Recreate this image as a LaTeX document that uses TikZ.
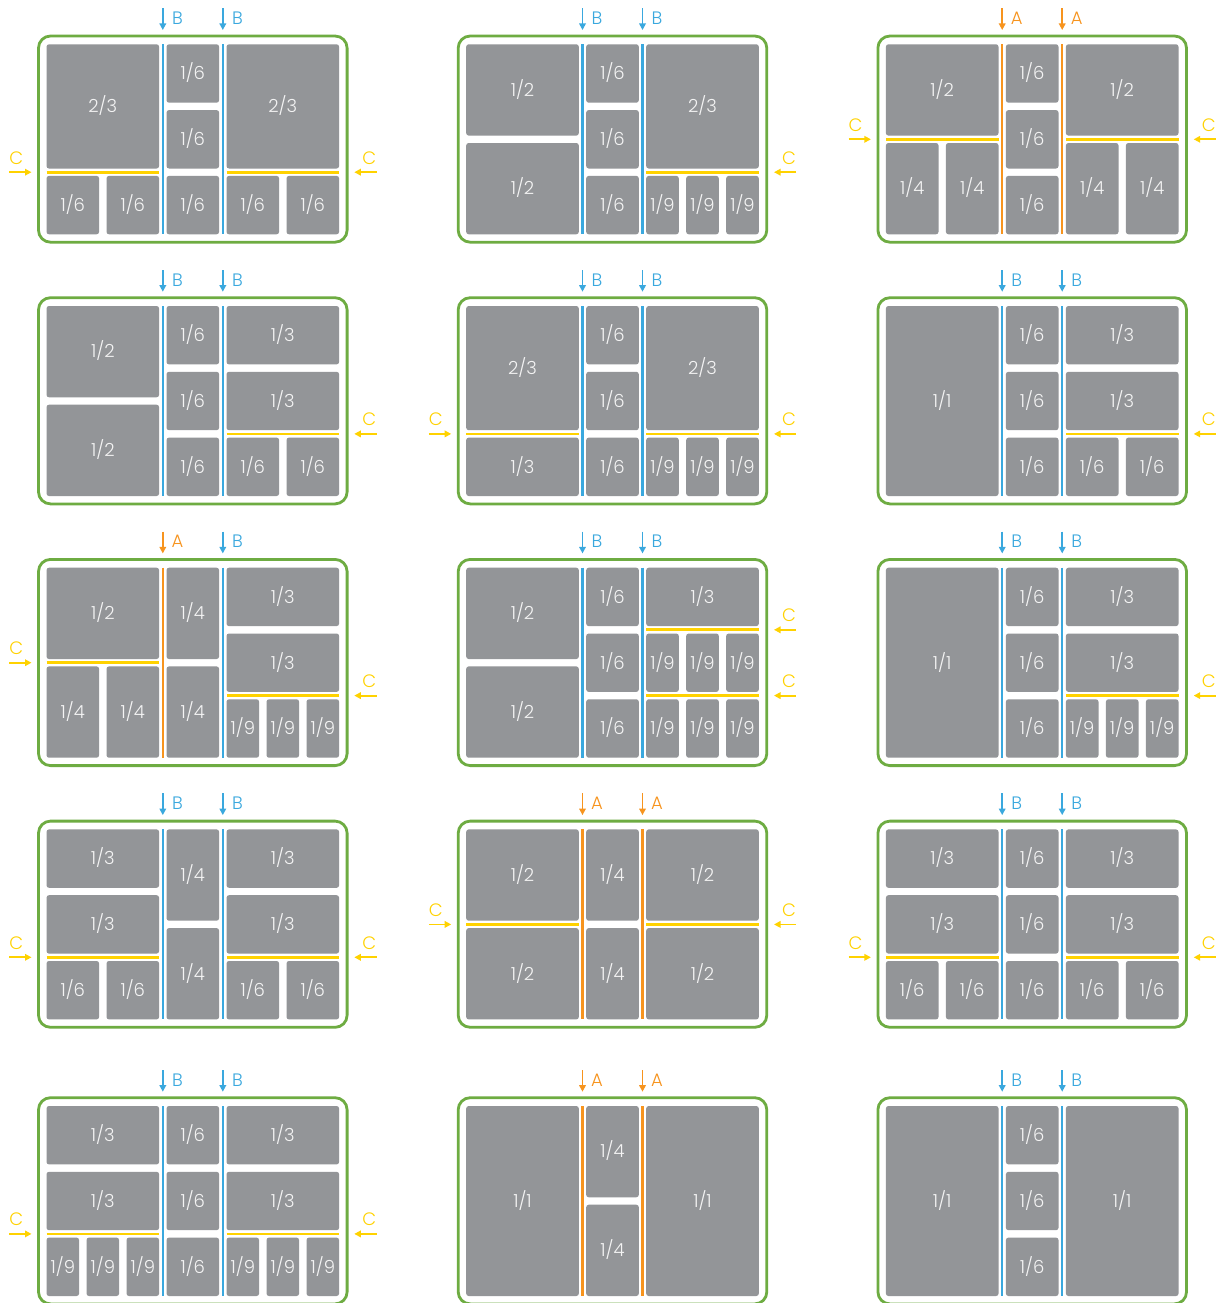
\documentclass[tikz,border=0pt]{standalone}
\usepackage{fontspec}
\IfFontExistsTF{Poppins Light}{\setmainfont{Poppins Light}}{\setmainfont{Poppins}}
\usetikzlibrary{arrows.meta}
\definecolor{cellgray}{RGB}{147,149,152}
\definecolor{lineblue}{RGB}{58,168,222}
\definecolor{lineorange}{RGB}{247,148,30}
\definecolor{lineyellow}{RGB}{255,210,0}
\definecolor{boxgreen}{RGB}{110,172,66}
\definecolor{celltext}{RGB}{244,244,244}
\tikzset{
  cellnode/.style={rectangle, fill=cellgray, rounded corners=2.5pt, inner sep=0pt, outer sep=0pt,
    text=celltext, font=\fontsize{18}{18}\selectfont, text height=12.6pt, text depth=0pt},
  panelnode/.style={rectangle, draw=boxgreen, line width=2.8pt, rounded corners=12pt, inner sep=0pt},
  ysep/.style={draw=lineyellow, line width=2.7pt},
  vsep/.style={line width=2.3pt},
  arr/.style={line width=1.8pt, -{Triangle[length=6.5pt,width=6.5pt]}},
  letter/.style={inner sep=0pt, font=\fontsize{18}{18}\selectfont},
}
% generic cell
\newcommand\C[6]{\node[cellnode, minimum width={(#4)-(#2)}, minimum height={(#5)-(#3)}] (\pn-#1) at ({((#2)+(#4))/2},{((#3)+(#5))/2}) {#6};}
\newcommand\RowOne[5]{\C{#1p}{#2}{#3}{#2+112.6}{#4}{#5}}
\newcommand\RowTwo[5]{\C{#1p}{#2}{#3}{#2+52.6}{#4}{#5}\C{#1q}{#2+60}{#3}{#2+112.6}{#4}{#5}}
\newcommand\RowThree[5]{\C{#1p}{#2}{#3}{#2+32.6}{#4}{#5}\C{#1q}{#2+40}{#3}{#2+72.6}{#4}{#5}\C{#1r}{#2+80}{#3}{#2+112.6}{#4}{#5}}
\newcommand\Ysep[2]{\draw[ysep] ({#1},#2) -- ({#1+112.6},#2);}
% side columns
\newcommand\STTsix[2]{\RowOne{#1a}{#2}{0}{124.2}{2/3}\Ysep{#2}{127.9}\RowTwo{#1b}{#2}{131.6}{190}{1/6}}
\newcommand\STTnine[2]{\RowOne{#1a}{#2}{0}{124.2}{2/3}\Ysep{#2}{127.9}\RowThree{#1b}{#2}{131.6}{190}{1/9}}
\newcommand\STTthird[2]{\RowOne{#1a}{#2}{0}{124.2}{2/3}\Ysep{#2}{127.9}\RowOne{#1b}{#2}{131.6}{190}{1/3}}
\newcommand\SHalves[2]{\RowOne{#1a}{#2}{0}{91.3}{1/2}\RowOne{#1b}{#2}{98.7}{190}{1/2}}
\newcommand\SHalvesY[2]{\SHalves{#1}{#2}\Ysep{#2}{95}}
\newcommand\SHalfQ[2]{\RowOne{#1a}{#2}{0}{91.3}{1/2}\Ysep{#2}{95}\RowTwo{#1b}{#2}{98.7}{190}{1/4}}
\newcommand\SThirds[2]{\RowOne{#1a}{#2}{0}{58.4}{1/3}\RowOne{#1b}{#2}{65.8}{124.2}{1/3}\Ysep{#2}{127.9}}
\newcommand\SThSix[2]{\SThirds{#1}{#2}\RowTwo{#1c}{#2}{131.6}{190}{1/6}}
\newcommand\SThNine[2]{\SThirds{#1}{#2}\RowThree{#1c}{#2}{131.6}{190}{1/9}}
\newcommand\SThNN[2]{\RowOne{#1a}{#2}{0}{58.4}{1/3}\Ysep{#2}{62.1}\RowThree{#1b}{#2}{65.8}{124.2}{1/9}\Ysep{#2}{127.9}\RowThree{#1c}{#2}{131.6}{190}{1/9}}
\newcommand\SFull[2]{\RowOne{#1a}{#2}{0}{190}{1/1}}
% middle column
\newcommand\MidSix{\C{m1}{120}{0}{172.6}{58.4}{1/6}\C{m2}{120}{65.8}{172.6}{124.2}{1/6}\C{m3}{120}{131.6}{172.6}{190}{1/6}}
\newcommand\MidFour{\C{m1}{120}{0}{172.6}{91.3}{1/4}\C{m2}{120}{98.7}{172.6}{190}{1/4}}
% dividers with arrows
\newcommand\Div[4]{%
  \draw[vsep, draw=#3] (#2,0) -- (#2,190);
  \draw[arr, draw=#3] (#2,-36) -- (#2,-14.3);
  \node[letter, text=#3] (\pn-#1) at (#2+14.6,-26) {#4};}
\newcommand\DivBB{\Div{d1}{116.3}{lineblue}{B}\Div{d2}{176.3}{lineblue}{B}}
\newcommand\DivAAx{\Div{d1}{116.3}{lineorange}{A}\Div{d2}{176.3}{lineorange}{A}}
\newcommand\CL[2]{\draw[arr, draw=lineyellow] (-37.4,#2) -- (-15,#2);
  \node[letter, text=lineyellow] (\pn-#1) at (-30.3,#2-14.3) {C};}
\newcommand\CR[2]{\draw[arr, draw=lineyellow] (330,#2) -- (307.8,#2);
  \node[letter, text=lineyellow] (\pn-#1) at (322.8,#2-14.3) {C};}
\newcommand\Frame{\node[panelnode, minimum width=308.6, minimum height=206.2] (\pn) at (146.3,94.8) {};}
\newcommand\Panel[4]{\begin{scope}[shift={(#2,#3)}]\def\pn{#1}\Frame #4\end{scope}}
\begin{document}
\begin{tikzpicture}[x=1pt,y=-1pt]
\useasboundingbox (0,0) rectangle (1223,1303);
\fill[white] (0,0) rectangle (1223,1303);
% row 1
\Panel{p11}{46.5}{44.3}{\STTsix{L}{0}\MidSix\STTsix{R}{180}\DivBB\CL{cl}{127.9}\CR{cr}{127.9}}
\Panel{p12}{466.2}{44.3}{\SHalves{L}{0}\MidSix\STTnine{R}{180}\DivBB\CR{cr}{127.9}}
\Panel{p13}{885.9}{44.3}{\SHalfQ{L}{0}\MidSix\SHalfQ{R}{180}\DivAAx\CL{cl}{95}\CR{cr}{95}}
% row 2
\Panel{p21}{46.5}{306}{\SHalves{L}{0}\MidSix\SThSix{R}{180}\DivBB\CR{cr}{127.9}}
\Panel{p22}{466.2}{306}{\STTthird{L}{0}\MidSix\STTnine{R}{180}\DivBB\CL{cl}{127.9}\CR{cr}{127.9}}
\Panel{p23}{885.9}{306}{\SFull{L}{0}\MidSix\SThSix{R}{180}\DivBB\CR{cr}{127.9}}
% row 3
\Panel{p31}{46.5}{567.7}{\SHalfQ{L}{0}\MidFour\SThNine{R}{180}\Div{d1}{116.3}{lineorange}{A}\Div{d2}{176.3}{lineblue}{B}\CL{cl}{95}\CR{cr}{127.9}}
\Panel{p32}{466.2}{567.7}{\SHalves{L}{0}\MidSix\SThNN{R}{180}\DivBB\CR{cr1}{62.1}\CR{cr2}{127.9}}
\Panel{p33}{885.9}{567.7}{\SFull{L}{0}\MidSix\SThNine{R}{180}\DivBB\CR{cr}{127.9}}
% row 4
\Panel{p41}{46.5}{829.4}{\SThSix{L}{0}\MidFour\SThSix{R}{180}\DivBB\CL{cl}{127.9}\CR{cr}{127.9}}
\Panel{p42}{466.2}{829.4}{\SHalvesY{L}{0}\MidFour\SHalvesY{R}{180}\DivAAx\CL{cl}{95}\CR{cr}{95}}
\Panel{p43}{885.9}{829.4}{\SThSix{L}{0}\MidSix\SThSix{R}{180}\DivBB\CL{cl}{127.9}\CR{cr}{127.9}}
% row 5
\Panel{p51}{46.5}{1106}{\SThNine{L}{0}\MidSix\SThNine{R}{180}\DivBB\CL{cl}{127.9}\CR{cr}{127.9}}
\Panel{p52}{466.2}{1106}{\SFull{L}{0}\MidFour\SFull{R}{180}\DivAAx}
\Panel{p53}{885.9}{1106}{\SFull{L}{0}\MidSix\SFull{R}{180}\DivBB}
\end{tikzpicture}
\end{document}
